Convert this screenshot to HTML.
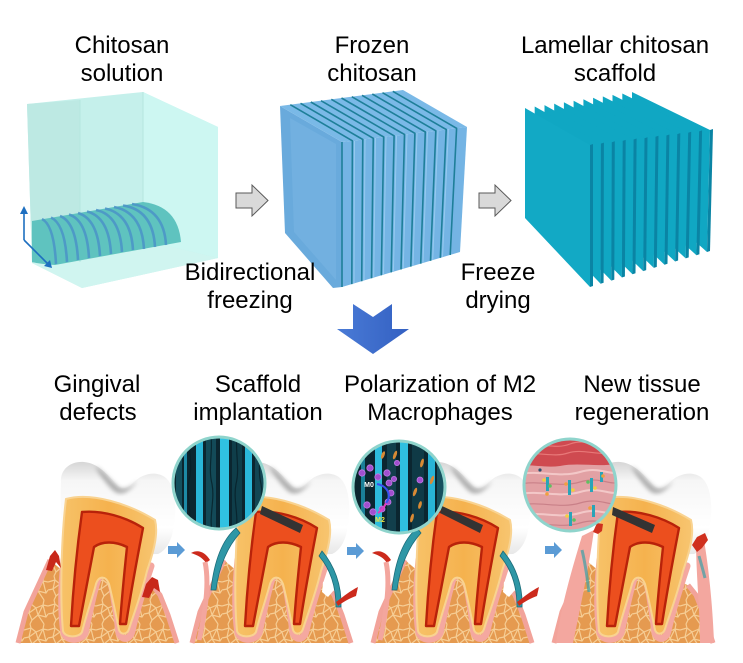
<!DOCTYPE html>
<html><head><meta charset="utf-8">
<style>
html,body{margin:0;padding:0;background:#fff;}
svg{display:block;}
.t{font-family:"Liberation Sans",Arial,sans-serif;font-size:24px;fill:#000;text-anchor:middle;}
.s{font-family:"Liberation Sans",Arial,sans-serif;font-weight:bold;}
</style></head><body>
<svg width="743" height="663" viewBox="0 0 743 663" xmlns="http://www.w3.org/2000/svg">
<defs>
  <pattern id="bone" width="24" height="24" patternUnits="userSpaceOnUse">
    <rect width="24" height="24" fill="#e59a50"/>
    <path d="M0,6 L7,4 L12,8 L19,5 L24,6 M7,4 L6,0 M7,4 L5,13 L12,8 M12,8 L14,15 L19,5 M19,5 L20,0 M5,13 L0,14 M5,13 L8,20 L14,15 L22,17 L24,14 M22,17 L19,5 M8,20 L6,24 M14,15 L20,24" fill="none" stroke="#f6cd94" stroke-width="1.2" stroke-linejoin="round"/>
  </pattern>
  <linearGradient id="enamel" x1="0" y1="0" x2="0" y2="1">
    <stop offset="0" stop-color="#d6d6d6"/><stop offset="0.2" stop-color="#f6f6f6"/>
    <stop offset="0.7" stop-color="#ffffff"/><stop offset="1" stop-color="#e6e6e6"/>
  </linearGradient>
  <linearGradient id="dentin" x1="0" y1="0" x2="1" y2="0">
    <stop offset="0" stop-color="#f7c268"/><stop offset="0.5" stop-color="#f5b24e"/><stop offset="1" stop-color="#f7c570"/>
  </linearGradient>
  <linearGradient id="chev" x1="0" y1="0" x2="1" y2="0">
    <stop offset="0" stop-color="#4a7bd6"/><stop offset="1" stop-color="#3360c2"/>
  </linearGradient>
  <filter id="blur2"><feGaussianBlur stdDeviation="2"/></filter>
  <clipPath id="c2"><circle cx="219" cy="483" r="46"/></clipPath>
  <clipPath id="c3"><circle cx="399" cy="487" r="46"/></clipPath>
  <clipPath id="c4"><circle cx="570" cy="485" r="46"/></clipPath>

  <g id="base">
    <path d="M18,643 L26,612 L38,586 L50,560 L64,572 L150,584 L158,590 L168,615 L177,643 Z" fill="url(#bone)"/>
    <path d="M18,643 L26,612 L38,586 L50,560" fill="none" stroke="#f2a39a" stroke-width="5"/>
    <path d="M152,585 L160,595 L168,615 L177,643" fill="none" stroke="#f2a39a" stroke-width="5"/>
    <path d="M64,560 C61,590 61,615 64,633 C68,642 81,641 85,633 C89,615 93,595 97,582 C99,572 108,572 111,582 C114,597 117,615 119,633 C122,641 130,640 132,631 C136,612 143,590 151,566" fill="none" stroke="#f4a8a0" stroke-width="7" stroke-linecap="round"/>
    <path d="M61,482 C60,470 70,461 84,462 C98,463 108,475 118,486 C124,490 128,488 134,482 C142,474 156,470 166,478 C177,488 177,515 172,535 C169,546 163,552 158,554 L66,556 C61,540 60,505 61,482 Z" fill="url(#enamel)"/>
    <path d="M95,466 C105,472 112,482 120,488 C126,490 132,486 138,480 C130,492 122,496 115,492 C108,486 100,476 95,466 Z" fill="#7d7d7d" opacity="0.6" filter="url(#blur2)"/>
    <path d="M66,499 C92,492 129,504 155,520 C159,535 152,556 147,571 C141,596 133,616 129,629 C127,635 121,635 119,630 C116,615 112,596 109,584 C106,576 99,575 96,584 C92,599 86,616 82,632 C79,638 65,638 63,631 C60,600 61,540 66,499 Z" fill="url(#dentin)" stroke="#f9d391" stroke-width="2"/>
    <path d="M82,512 C102,510 126,517 143,528 C139,549 132,585 126,624 L120,624 C122,595 125,566 127,547 C115,541 102,541 94,547 C89,573 84,600 79,626 L71,626 C73,590 77,548 82,512 Z" fill="#ec4f1e" stroke="#b8220a" stroke-width="2.4" stroke-linejoin="round"/>
  </g>

  <g id="p2extra">
    <path d="M191,553 C198,549 205,552 210,560 L206,563 C202,557 197,555 191,553 Z" fill="#cc2a1c"/>
    <path d="M205,562 C209,580 207,605 199,640" fill="none" stroke="#f3a69e" stroke-width="5"/>
    <path d="M236,528 C222,540 214,562 211,590 L216,590 C219,566 228,546 240,533 Z" fill="#2e97a6" stroke="#1b6b78" stroke-width="0.8"/>
    <path d="M322,551 C334,565 342,585 341,607 L336,607 C336,588 331,570 319,556 Z" fill="#2e97a6" stroke="#1b6b78" stroke-width="0.8"/>
    <path d="M323,582 L330,578 L334,590 L328,597 L322,592 Z" fill="#ffffff"/>
    <path d="M336,602 C344,596 350,591 358,587 L356,596 C350,598 343,602 338,606 Z" fill="#cc2a1c"/>
  </g>
</defs>

<rect width="743" height="663" fill="#ffffff"/>

<!-- ===== Cube 1: chitosan solution ===== -->
<polygon points="27,104 143,92 218,127 218,258 82,288 32,263" fill="#c5f0eb"/>
<polygon points="27,104 80,100 80,262 32,263" fill="#bde9e3"/>
<polygon points="143,92 218,127 218,258 143,240" fill="#cdf7f2"/>
<polygon points="32,263 143,240 218,258 82,288" fill="#d0f5f0"/>
<line x1="143" y1="92" x2="143" y2="240" stroke="#b5e6df" stroke-width="1"/>
<line x1="80" y1="100" x2="80" y2="262" stroke="#b5e6df" stroke-width="1"/>
<path d="M32,221 L143,202 Q178,206 181,242 L55,265 Q40,264 32,262 Z" fill="#5fc3bf"/>
<g fill="none" stroke="#4b93c8" stroke-width="2.6" opacity="0.85">
  <path d="M42,219 Q54,225 56,264"/>
  <path d="M51,217.5 Q65,224 67,262"/>
  <path d="M60,216 Q76,222 78,260"/>
  <path d="M69,214.5 Q87,220 89,258"/>
  <path d="M78,213 Q98,219 100,256"/>
  <path d="M87,211.5 Q109,217 111,254"/>
  <path d="M96,210 Q120,215 122,252"/>
  <path d="M105,208.5 Q131,214 133,250"/>
  <path d="M114,207 Q142,212 144,249"/>
  <path d="M123,205.5 Q153,210 155,247"/>
  <path d="M132,204 Q164,209 166,245"/>
</g>
<g stroke="#1e6fc0" stroke-width="1.6" fill="#1e6fc0">
  <line x1="24" y1="240" x2="24" y2="212"/>
  <polygon points="20,214 24,206 28,214" stroke="none"/>
  <line x1="24" y1="240" x2="48" y2="264"/>
  <polygon points="44,266 52,268 50,260" stroke="none"/>
</g>

<!-- ===== Cube 2: frozen chitosan ===== -->
<polygon points="280,106 342,142 342,287 333,288 285,233" fill="#69aadc"/>
<polygon points="290,118 336,144 336,280 294,232" fill="#72b0e0"/>
<polygon points="280,106 403,90 467,127 342,142" fill="#7ab9e7"/>
<polygon points="342,142 467,127 460,252 342,287" fill="#74b4e4"/>
<g fill="none" stroke="#1e7f99" stroke-width="1.6">
  <polyline points="290.3,104.7 352.4,140.8 351.8,284.1"/>
  <polyline points="300.5,103.3 362.8,139.5 361.7,281.2"/>
  <polyline points="310.8,102 373.3,138.3 371.5,278.3"/>
  <polyline points="321,100.7 383.7,137 381.3,275.3"/>
  <polyline points="331.3,99.3 394.1,135.8 391.2,272.4"/>
  <polyline points="341.5,98 404.5,134.5 401,269.5"/>
  <polyline points="351.8,96.7 414.9,133.3 410.8,266.6"/>
  <polyline points="362,95.3 425.3,132 420.7,263.7"/>
  <polyline points="372.3,94 435.8,130.8 430.5,260.8"/>
  <polyline points="382.5,92.7 446.2,129.5 440.3,257.8"/>
  <polyline points="392.8,91.3 456.6,128.3 450.2,254.9"/>
  <polyline points="342,142 342,287"/>
</g>
<g fill="none" stroke="#9fd0f2" stroke-width="1" opacity="0.8">
  <line x1="354.5" y1="141" x2="354" y2="283"/>
  <line x1="365" y1="139.5" x2="364" y2="280"/>
  <line x1="375.5" y1="138" x2="373.7" y2="277"/>
  <line x1="386" y1="137" x2="383.5" y2="274"/>
  <line x1="396.5" y1="135.5" x2="393.4" y2="271"/>
  <line x1="407" y1="134" x2="403.2" y2="268.5"/>
  <line x1="417" y1="133" x2="413" y2="265.5"/>
  <line x1="427.5" y1="131.7" x2="423" y2="262.7"/>
  <line x1="438" y1="130.5" x2="432.7" y2="259.8"/>
  <line x1="448.4" y1="129.2" x2="442.5" y2="256.8"/>
</g>

<!-- ===== Cube 3: lamellar scaffold ===== -->
<g>
  <polygon points="632,92 710,130 707,252 632,185" fill="#10a7c3"/><polygon points="710,130 713,129 710,251 707,252" fill="#0a84a4"/>
  <polygon points="622.3,93.5 699.1,131.4 696.4,255.2 622.3,188" fill="#10a7c3"/><polygon points="699.1,131.4 702.1,130.4 699.4,254.2 696.4,255.2" fill="#0a84a4"/>
  <polygon points="612.5,94.9 688.2,132.7 685.7,258.4 612.5,191" fill="#10a7c3"/><polygon points="688.2,132.7 691.2,131.7 688.7,257.4 685.7,258.4" fill="#0a84a4"/>
  <polygon points="602.8,96.4 677.3,134.1 675.1,261.5 602.8,194" fill="#10a7c3"/><polygon points="677.3,134.1 680.3,133.1 678.1,260.5 675.1,261.5" fill="#0a84a4"/>
  <polygon points="593.1,97.8 666.4,135.5 664.5,264.7 593.1,197" fill="#10a7c3"/><polygon points="666.4,135.5 669.4,134.5 667.5,263.7 664.5,264.7" fill="#0a84a4"/>
  <polygon points="583.4,99.3 655.5,136.8 653.8,267.9 583.4,200" fill="#10a7c3"/><polygon points="655.5,136.8 658.5,135.8 656.8,266.9 653.8,267.9" fill="#0a84a4"/>
  <polygon points="573.6,100.7 644.5,138.2 643.2,271.1 573.6,203" fill="#10a7c3"/><polygon points="644.5,138.2 647.5,137.2 646.2,270.1 643.2,271.1" fill="#0a84a4"/>
  <polygon points="563.9,102.2 633.6,139.5 632.5,274.3 563.9,206" fill="#10a7c3"/><polygon points="633.6,139.5 636.6,138.5 635.5,273.3 632.5,274.3" fill="#0a84a4"/>
  <polygon points="554.2,103.6 622.7,140.9 621.9,277.5 554.2,209" fill="#10a7c3"/><polygon points="622.7,140.9 625.7,139.9 624.9,276.5 621.9,277.5" fill="#0a84a4"/>
  <polygon points="544.5,105.1 611.8,142.3 611.3,280.6 544.5,212" fill="#10a7c3"/><polygon points="611.8,142.3 614.8,141.3 614.3,279.6 611.3,280.6" fill="#0a84a4"/>
  <polygon points="534.7,106.5 600.9,143.6 600.6,283.8 534.7,215" fill="#10a7c3"/><polygon points="600.9,143.6 603.9,142.6 603.6,282.8 600.6,283.8" fill="#0a84a4"/>
  <polygon points="525,108 590,145 590,287 525,218" fill="#12a9c5"/><polygon points="590,145 593,144 593,286 590,287" fill="#0a84a4"/>
</g>

<!-- gray process arrows -->
<path d="M236,193 H252 V185 L268,200.5 L252,216 V208 H236 Z" fill="#d9d9d9" stroke="#595959" stroke-width="1"/>
<path d="M479,193 H495 V185 L511,200.5 L495,216 V208 H479 Z" fill="#d9d9d9" stroke="#595959" stroke-width="1"/>

<!-- blue chevron -->
<path d="M353,304 L373,317 L392,304 L392,329 L409,329 L373,354 L337,329 L353,329 Z" fill="url(#chev)"/>

<!-- ===== Panel 1 ===== -->
<use href="#base"/>
<polygon points="46,570 50,556 55,550 59,556 61,568 56,562 52,571" fill="#c8281a"/>
<polygon points="142,597 146,584 152,577 158,580 160,592 154,588 149,598" fill="#c8281a"/>

<!-- ===== Panel 2 ===== -->
<use href="#base" transform="translate(174,0)"/>
<use href="#p2extra"/>
<polygon points="262,506 303,525 300,533 260,514" fill="#333333"/>

<!-- ===== Panel 3 ===== -->
<use href="#base" transform="translate(355,0)"/>
<use href="#p2extra" transform="translate(181,0)"/>
<polygon points="442,506 483,525 480,533 440,513" fill="#333333"/>

<!-- ===== Panel 4 ===== -->
<use href="#base" transform="translate(536,0)"/>
<path d="M556,643 C560,612 570,575 582,536 L594,530 C590,560 582,600 573,643 Z" fill="#f3a79f"/>
<path d="M582,550 C585,562 587,576 589,592" fill="none" stroke="#3aa0a8" stroke-width="3" opacity="0.7"/>
<polygon points="593,532 597,523 603,524 602,531 598,534" fill="#d0301e"/>
<path d="M714,643 C713,610 709,570 704,540 L696,540 C696,575 700,610 700,643 Z" fill="#f3a79f"/>
<path d="M699,556 C701,563 703,570 705,578" fill="none" stroke="#3aa0a8" stroke-width="3" opacity="0.7"/>
<polygon points="692,545 697,537 705,533 708,540 702,548 697,552" fill="#d0301e"/>
<polygon points="613,507 655,525 652,533 612,515" fill="#333333"/>

<!-- small blue arrows -->
<path d="M168,546 h9 v-4 l8,8 l-8,8 v-4 h-9 Z" fill="#5b9bd5"/>
<path d="M347,547 h9 v-4 l8,8 l-8,8 v-4 h-9 Z" fill="#5b9bd5"/>
<path d="M545,546 h9 v-4 l8,8 l-8,8 v-4 h-9 Z" fill="#5b9bd5"/>

<!-- ===== Magnifier 2 ===== -->
<g clip-path="url(#c2)">
  <rect x="170" y="434" width="100" height="100" fill="#0b2630"/>
  <rect x="176" y="434" width="6" height="100" fill="#14505e"/>
  <rect x="184" y="434" width="3" height="100" fill="#1d8aa6"/>
  <rect x="196" y="434" width="7" height="100" fill="#29b6d8"/>
  <rect x="206" y="434" width="10" height="100" fill="#134a58"/>
  <rect x="220" y="434" width="9" height="100" fill="#30c2e2"/>
  <rect x="232" y="434" width="10" height="100" fill="#0f3e4a"/>
  <rect x="245" y="434" width="7" height="100" fill="#2ab8da"/>
  <rect x="255" y="434" width="12" height="100" fill="#124654"/>
  <g fill="none" stroke="#072028" stroke-width="1.2" opacity="0.8">
    <path d="M190,436 C188,450 193,465 189,480 C186,495 192,510 189,532"/>
    <path d="M211,436 C213,452 208,468 212,484 C215,500 209,515 212,532"/>
    <path d="M237,436 C235,452 240,468 236,484 C233,500 239,515 236,532"/>
    <path d="M260,436 C262,452 257,468 261,484 C264,500 258,515 261,532"/>
  </g>
</g>
<circle cx="219" cy="483" r="46" fill="none" stroke="#8fd4cc" stroke-width="3"/>

<!-- ===== Magnifier 3 ===== -->
<g clip-path="url(#c3)">
  <rect x="350" y="438" width="100" height="100" fill="#0b2630"/>
  <rect x="361" y="438" width="4" height="100" fill="#1a7f98"/>
  <rect x="375" y="438" width="7" height="100" fill="#2dbbdc"/>
  <rect x="387" y="438" width="9" height="100" fill="#123f4c"/>
  <rect x="400" y="438" width="8" height="100" fill="#2fc0e0"/>
  <rect x="412" y="438" width="12" height="100" fill="#0f3a46"/>
  <rect x="428" y="438" width="7" height="100" fill="#28b4d6"/>
  <rect x="437" y="438" width="8" height="100" fill="#15505e"/>
  <g fill="#d98a34">
    <ellipse cx="395" cy="455" rx="1.6" ry="4.5" transform="rotate(20 395 455)"/>
    <ellipse cx="422" cy="463" rx="1.6" ry="4.5" transform="rotate(15 422 463)"/>
    <ellipse cx="415" cy="492" rx="1.6" ry="4.5" transform="rotate(20 415 492)"/>
    <ellipse cx="412" cy="518" rx="1.6" ry="4.5" transform="rotate(15 412 518)"/>
    <ellipse cx="432" cy="480" rx="1.6" ry="4.5" transform="rotate(20 432 480)"/>
    <ellipse cx="383" cy="455" rx="1.6" ry="4" transform="rotate(20 383 455)"/>
    <ellipse cx="420" cy="505" rx="1.6" ry="4" transform="rotate(15 420 505)"/>
  </g>
  <g fill="#a24fcf" stroke="#c27ae6" stroke-width="0.8">
    <circle cx="362" cy="473" r="3.2"/><circle cx="370" cy="468" r="3.2"/>
    <circle cx="378" cy="477" r="3.2"/><circle cx="387" cy="473" r="3.2"/>
    <circle cx="389" cy="483" r="3"/><circle cx="391" cy="493" r="3"/>
    <circle cx="388" cy="502" r="3"/><circle cx="382" cy="509" r="3"/>
    <circle cx="373" cy="512" r="3.2"/><circle cx="367" cy="505" r="3.2"/>
    <circle cx="394" cy="479" r="2.6"/><circle cx="420" cy="480" r="3"/>
    <circle cx="397" cy="463" r="2.6"/>
  </g>
  <path d="M377,484 C388,486 392,496 386,503" fill="none" stroke="#3a50f0" stroke-width="2"/>
  <path d="M386,503 C384,508 381,511 378,513" fill="none" stroke="#e040c0" stroke-width="2"/>
  <text x="369" y="487" class="s" font-size="7" fill="#ffffff" text-anchor="middle">M0</text>
  <text x="380" y="522" class="s" font-size="7" fill="#e8e040" text-anchor="middle">M2</text>
</g>
<circle cx="399" cy="487" r="46" fill="none" stroke="#8fd4cc" stroke-width="3"/>

<!-- ===== Magnifier 4 ===== -->
<g clip-path="url(#c4)">
  <rect x="520" y="436" width="100" height="100" fill="#e2a1a4"/>
  <path d="M520,436 H620 V463 C600,468 580,462 560,466 C545,468 530,464 520,466 Z" fill="#cf4a50"/>
  <g fill="none" stroke="#e87878" stroke-width="1.2">
    <path d="M524,446 C540,442 555,450 570,444 S600,448 618,443"/>
    <path d="M522,455 C538,451 553,458 568,453 S600,457 618,452"/>
  </g>
  <g fill="none" stroke-width="2">
    <path d="M520,474 C540,470 560,478 580,472 S610,476 620,472" stroke="#f3c8c8"/>
    <path d="M520,484 C540,480 560,488 580,482 S610,486 620,482" stroke="#c98088" stroke-width="1.2"/>
    <path d="M520,494 C540,490 560,498 580,492 S610,496 620,492" stroke="#f3c8c8"/>
    <path d="M520,505 C540,501 560,509 580,503 S610,507 620,503" stroke="#c98088" stroke-width="1.2"/>
    <path d="M520,515 C540,511 560,519 580,513 S610,517 620,513" stroke="#f3c8c8"/>
    <path d="M520,525 C540,521 560,529 580,523 S610,527 620,523" stroke="#c98088" stroke-width="1.2"/>
  </g>
  <g fill="#2aa4b8">
    <rect x="546" y="477" width="3" height="14"/><rect x="568" y="480" width="3" height="15"/>
    <rect x="590" y="478" width="3" height="14"/><rect x="600" y="472" width="3" height="10"/>
    <rect x="569" y="512" width="3" height="14"/><rect x="592" y="505" width="3" height="12"/>
  </g>
  <g>
    <circle cx="544" cy="480" r="1.8" fill="#f0d040"/><circle cx="550" cy="486" r="1.8" fill="#60c060"/>
    <circle cx="566" cy="484" r="1.8" fill="#f0a040"/><circle cx="573" cy="490" r="1.8" fill="#f0d040"/>
    <circle cx="588" cy="482" r="1.8" fill="#60c060"/><circle cx="595" cy="488" r="1.8" fill="#f0d040"/>
    <circle cx="603" cy="476" r="1.8" fill="#f0a040"/><circle cx="567" cy="516" r="1.8" fill="#f0d040"/>
    <circle cx="574" cy="520" r="1.8" fill="#60c060"/><circle cx="590" cy="508" r="1.8" fill="#f0a040"/>
    <circle cx="547" cy="494" r="1.8" fill="#f0a040"/><circle cx="540" cy="470" r="1.6" fill="#2a5070"/>
  </g>
</g>
<circle cx="570" cy="485" r="46" fill="none" stroke="#8fd4cc" stroke-width="3"/>

<!-- ===== Labels ===== -->
<text class="t" x="122" y="53">Chitosan</text>
<text class="t" x="122" y="81">solution</text>
<text class="t" x="372" y="53">Frozen</text>
<text class="t" x="372" y="81">chitosan</text>
<text class="t" x="615" y="53">Lamellar chitosan</text>
<text class="t" x="615" y="81">scaffold</text>
<text class="t" x="250" y="280">Bidirectional</text>
<text class="t" x="250" y="308">freezing</text>
<text class="t" x="498" y="280">Freeze</text>
<text class="t" x="498" y="308">drying</text>
<text class="t" x="97" y="392">Gingival</text>
<text class="t" x="98" y="420">defects</text>
<text class="t" x="258" y="392">Scaffold</text>
<text class="t" x="258" y="420">implantation</text>
<text class="t" x="440" y="392">Polarization of M2</text>
<text class="t" x="440" y="420">Macrophages</text>
<text class="t" x="642" y="392">New tissue</text>
<text class="t" x="642" y="420">regeneration</text>
</svg>
</body></html>
